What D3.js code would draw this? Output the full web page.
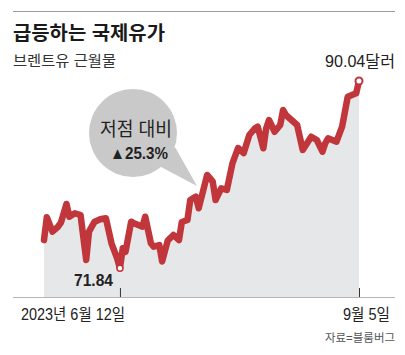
<!DOCTYPE html>
<html><head><meta charset="utf-8">
<script src="https://cdn.jsdelivr.net/npm/d3@7"></script>
<style>
html,body{margin:0;padding:0;background:#fff;}
svg{display:block;}
text{font-family:"Liberation Sans","Noto Sans CJK KR",sans-serif;}
</style></head>
<body>
<script>
const dates = ["2023-05-16","2023-05-17","2023-05-19","2023-05-21","2023-05-22","2023-05-24","2023-05-25","2023-05-27","2023-05-29","2023-05-31",
"2023-06-01","2023-06-03","2023-06-05","2023-06-07","2023-06-09","2023-06-11","2023-06-12","2023-06-13","2023-06-14","2023-06-16",
"2023-06-17","2023-06-20","2023-06-21","2023-06-23","2023-06-24","2023-06-26","2023-06-27","2023-06-29","2023-07-01","2023-07-03",
"2023-07-04","2023-07-06","2023-07-07","2023-07-09","2023-07-10","2023-07-13","2023-07-15","2023-07-16","2023-07-18","2023-07-20",
"2023-07-22","2023-07-24","2023-07-26","2023-07-28","2023-07-30","2023-07-31","2023-08-02","2023-08-03","2023-08-04","2023-08-06",
"2023-08-08","2023-08-09","2023-08-10","2023-08-12","2023-08-14","2023-08-16","2023-08-19","2023-08-21","2023-08-23","2023-08-24",
"2023-08-25","2023-08-28","2023-08-30","2023-09-01","2023-09-04","2023-09-05"];
const prices = [74.59,76.80,75.40,75.88,76.27,78.09,76.85,77.19,77.02,72.65,
75.40,76.37,76.60,76.70,74.27,72.81,71.84,73.78,73.45,76.37,
76.21,75.88,76.85,74.27,73.94,74.10,72.50,74.54,75.08,74.59,
76.34,76.53,78.48,78.80,77.67,80.91,80.26,78.48,79.61,79.45,
82.04,83.53,83.04,84.79,85.45,85.60,83.50,85.45,86.25,85.11,
85.77,87.22,86.74,86.25,85.77,83.34,84.63,84.31,83.17,83.99,
84.47,84.14,85.60,88.52,88.85,90.04];
const tickDates = ["2023-06-12","2023-09-05"];
const tickLabels = ["2023년 6월 12일","9월 5일"];
const title = "급등하는 국제유가";
const subtitle = "브렌트유 근월물";
const lowLabel = "71.84";
const highLabel = "90.04달러";
const bubbleLines = ["저점 대비","▲25.3%"];
const source = "자료=블룸버그";

const W = 405, H = 355;
const parse = d3.timeParse("%Y-%m-%d");
const data = dates.map((d,i)=>({date:parse(d), v:prices[i]}));

const svg = d3.select("body").append("svg").attr("width",W).attr("height",H);

const x = d3.scaleTime().domain(d3.extent(data,d=>d.date)).range([44,359]);
const y = d3.scaleLinear().domain([69.05,91.11]).range([297,70]);
const base = 297;

// top rule
svg.append("line").attr("x1",13).attr("x2",395).attr("y1",11.5).attr("y2",11.5)
  .attr("stroke","#9a9a9a").attr("stroke-width",1);

svg.append("text").attr("x",13).attr("y",40).attr("font-size",19.5).attr("font-weight","bold")
  .attr("fill","#1a1a1a").attr("font-family","'Noto Sans CJK KR',sans-serif")
  .attr("textLength",152).attr("lengthAdjust","spacingAndGlyphs").text(title);
svg.append("text").attr("x",13).attr("y",65.5).attr("font-size",15)
  .attr("fill","#333").attr("font-family","'Noto Sans CJK KR',sans-serif")
  .attr("textLength",103).attr("lengthAdjust","spacingAndGlyphs").text(subtitle);

// area
const area = d3.area().x(d=>x(d.date)).y0(base).y1(d=>y(d.v));
svg.append("path").datum(data).attr("d",area).attr("fill","#e6e7e9");

// bubble
const bub = svg.append("g");
const cx = 133, cy = 133, r = 44;
bub.append("path")
  .attr("d", d3.line()([[cx+28,cy+34],[197,186],[cx+42,cy+14]]))
  .attr("fill","#c9c9c9");
bub.append("circle").attr("cx",cx).attr("cy",cy).attr("r",r).attr("fill","#c9c9c9");
bub.append("text").attr("x",136).attr("y",135.5).attr("text-anchor","middle")
  .attr("font-size",19).attr("fill","#222").attr("font-family","'Noto Sans CJK KR',sans-serif")
  .attr("textLength",72).attr("lengthAdjust","spacingAndGlyphs").text(bubbleLines[0]);
bub.append("text").attr("x",139).attr("y",158.5).attr("text-anchor","middle")
  .attr("font-size",16.5).attr("font-weight","bold").attr("fill","#222")
  .attr("textLength",58).attr("lengthAdjust","spacingAndGlyphs").text(bubbleLines[1]);

// line
const line = d3.line().x(d=>x(d.date)).y(d=>y(d.v));
svg.append("path").datum(data).attr("d",line).attr("fill","none")
  .attr("stroke","#c0363b").attr("stroke-width",6.5)
  .attr("stroke-linejoin","round").attr("stroke-linecap","round");

// axis
svg.append("line").attr("x1",13).attr("x2",395).attr("y1",base+0.5).attr("y2",base+0.5)
  .attr("stroke","#b5b5b5").attr("stroke-width",1);
const axis = d3.axisBottom(x).tickValues(tickDates.map(parse)).tickSize(-9).tickFormat("");
const ax = svg.append("g").attr("transform",`translate(0,${base})`).call(axis);
ax.select(".domain").remove();
ax.selectAll(".tick line").attr("stroke","#333").attr("stroke-width",1);

svg.append("text").attr("x",21).attr("y",320).attr("font-size",16).attr("fill","#222")
  .attr("textLength",104).attr("lengthAdjust","spacingAndGlyphs").text(tickLabels[0]);
svg.append("text").attr("x",390).attr("y",320).attr("font-size",16).attr("fill","#222")
  .attr("text-anchor","end").attr("textLength",47).attr("lengthAdjust","spacingAndGlyphs").text(tickLabels[1]);

// low/high labels & dots
const lowD = data[d3.minIndex(data,d=>d.v)];
const hiD = data[data.length-1];
svg.append("circle").attr("cx",x(lowD.date)).attr("cy",y(lowD.v)).attr("r",3)
  .attr("fill","#fff").attr("stroke","#c0363b").attr("stroke-width",1.5);
svg.append("circle").attr("cx",x(hiD.date)).attr("cy",y(hiD.v)).attr("r",3.5)
  .attr("fill","#fff").attr("stroke","#c0363b").attr("stroke-width",2);
svg.append("text").attr("x",93.5).attr("y",286).attr("text-anchor","middle")
  .attr("font-size",17).attr("font-weight","bold").attr("fill","#222")
  .attr("textLength",39).attr("lengthAdjust","spacingAndGlyphs").text(lowLabel);
svg.append("text").attr("x",395).attr("y",67).attr("text-anchor","end")
  .attr("font-size",16).attr("fill","#222")
  .attr("textLength",70).attr("lengthAdjust","spacingAndGlyphs").text(highLabel);

svg.append("text").attr("x",395).attr("y",342).attr("text-anchor","end")
  .attr("font-size",11.5).attr("fill","#555").attr("font-family","'Noto Sans CJK KR',sans-serif")
  .attr("textLength",70).attr("lengthAdjust","spacingAndGlyphs").text(source);
</script>
</body></html>
